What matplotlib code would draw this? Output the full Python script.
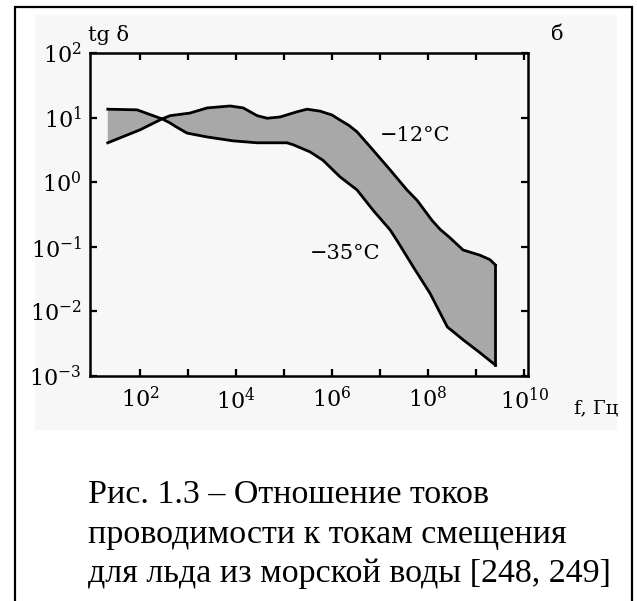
import numpy as np
import matplotlib.pyplot as plt
from matplotlib.patches import Rectangle

plt.rcParams['font.family'] = 'DejaVu Serif'
plt.rcParams['mathtext.fontset'] = 'dejavuserif'

# boundary of the band, log10 of frequency (Hz) and log10 of tg delta
lg_f_12 = [1.33, 1.94, 2.20, 2.46, 2.63, 3.04, 3.40, 3.88, 4.15, 4.44, 4.65,
           4.92, 5.27, 5.48, 5.75, 6.00, 6.17, 6.35, 6.52, 6.85, 7.21, 7.56,
           7.77, 8.08, 8.25, 8.44, 8.73, 9.08, 9.29, 9.40]
lg_tg_12 = [1.13, 1.12, 1.05, 0.98, 1.03, 1.07, 1.15, 1.18, 1.15, 1.03, 0.99,
            1.01, 1.09, 1.13, 1.10, 1.04, 0.96, 0.88, 0.78, 0.50, 0.19, -0.12,
            -0.28, -0.59, -0.73, -0.85, -1.05, -1.13, -1.20, -1.28]

lg_f_35 = [1.33, 2.00, 2.46, 2.62, 2.77, 2.98, 3.40, 3.94, 4.44, 5.06, 5.19,
           5.54, 5.81, 6.17, 6.52, 6.85, 7.21, 7.35, 7.69, 8.04, 8.40, 8.73,
           9.08, 9.40]
lg_tg_35 = [0.61, 0.81, 0.98, 0.92, 0.85, 0.76, 0.70, 0.64, 0.61, 0.61, 0.58,
            0.47, 0.34, 0.08, -0.12, -0.43, -0.74, -0.90, -1.31, -1.72, -2.24,
            -2.44, -2.64, -2.83]

x_ticks = [2, 3, 4, 5, 6, 7, 8, 9, 10]
y_ticks = [-3, -2, -1, 0, 1, 2]

f12 = 10.0 ** np.array(lg_f_12)
t12 = 10.0 ** np.array(lg_tg_12)
f35 = 10.0 ** np.array(lg_f_35)
t35 = 10.0 ** np.array(lg_tg_35)

fig = plt.figure(figsize=(6.37, 6.01), dpi=100)

# frame around figure and caption
fig.patches.append(Rectangle((35 / 637, 1 - 430 / 601), 582 / 637, 415 / 601,
                             transform=fig.transFigure, facecolor='#f7f7f7',
                             edgecolor='none', zorder=-2))
fig.patches.append(Rectangle((15 / 637, -0.05), 617 / 637, 1.05 - 7 / 601,
                             transform=fig.transFigure, facecolor='none',
                             edgecolor='black', linewidth=1.6, zorder=-1))

ax = fig.add_axes([90 / 637, 1 - 376 / 601, 438 / 637, 323 / 601])
ax.set_facecolor('none')
ax.set_xscale('log')
ax.set_yscale('log')
ax.set_xlim(10 ** 0.96, 10 ** 10.08)
ax.set_ylim(1e-3, 1e2)

ax.fill(np.concatenate([f12, f35[::-1]]), np.concatenate([t12, t35[::-1]]),
        facecolor='#a8a8a8', edgecolor='none', zorder=2)
ax.plot(f12, t12, color='black', lw=2, zorder=3, solid_joinstyle='round')
ax.plot(f35, t35, color='black', lw=2, zorder=3, solid_joinstyle='round')
ax.plot([f12[-1], f35[-1]], [t12[-1], t35[-1]], color='black', lw=2, zorder=3)

ax.text(10 ** 7.0, 10 ** 0.73, '−12°C', fontsize=15, va='center', ha='left')
ax.text(10 ** 5.54, 10 ** -1.10, '−35°C', fontsize=15, va='center', ha='left')

ax.set_xticks([10.0 ** k for k in x_ticks])
ax.set_xticklabels([r'$10^{%d}$' % k if k % 2 == 0 else '' for k in x_ticks])
ax.set_yticks([10.0 ** k for k in y_ticks])
ax.set_yticklabels([r'$10^{%d}$' % k for k in y_ticks])
ax.minorticks_off()
ax.tick_params(which='major', direction='in', length=5, width=1.6,
               top=True, right=True, labelsize=16)
ax.tick_params(axis='x', pad=8)
ax.tick_params(axis='y', pad=6)
for s in ax.spines.values():
    s.set_linewidth(1.8)

fig.text(109 / 637, 1 - 35 / 601, 'tg δ', fontsize=15, ha='center', va='center')
fig.text(557 / 637, 1 - 35 / 601, 'б', fontsize=15, ha='center', va='center')
fig.text(574 / 637, 1 - 408 / 601, 'f, Гц', fontsize=14, ha='left', va='center')

caption = ['Рис. 1.3 – Отношение токов',
           'проводимости к токам смещения',
           'для льда из морской воды [248, 249]']
for i, line in enumerate(caption):
    fig.text(88 / 637, 1 - (495 + 39.5 * i) / 601, line, fontsize=24.5,
             family='Liberation Serif', ha='left', va='center')

fig.savefig('out.png', dpi=100)
